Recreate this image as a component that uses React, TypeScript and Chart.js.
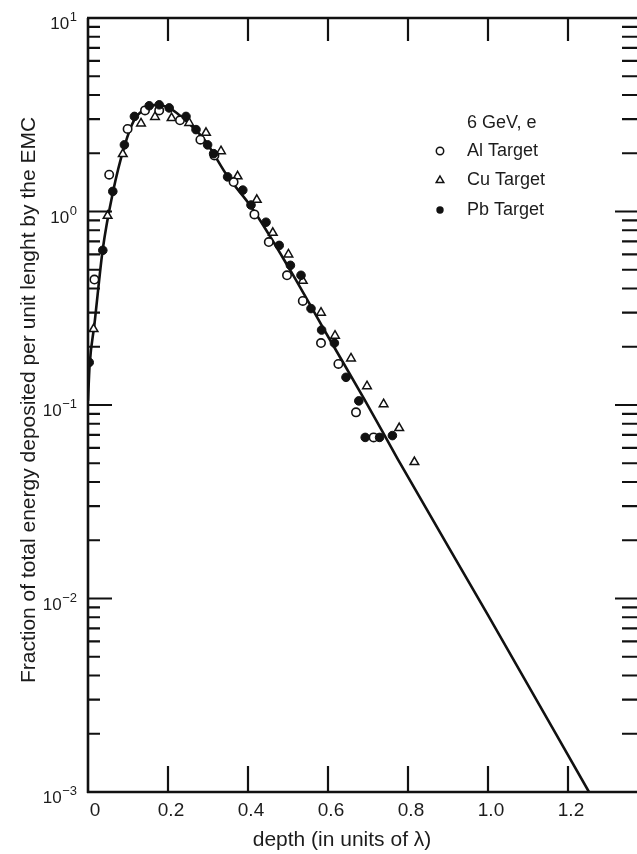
import React, { useEffect, useRef } from 'react';
import { Chart, registerables } from 'chart.js';

Chart.register(...registerables);

// ---------------- data ----------------
const curveDepth = [0, 0.004, 0.016, 0.037, 0.062, 0.091, 0.116, 0.145, 0.174, 0.2, 0.2325, 0.291, 0.349, 0.4075, 0.5, 0.599, 0.691, 0.774, 1.0, 1.2525];
const curveFraction = [0.105, 0.16, 0.26, 0.64, 1.25, 2.17, 2.98, 3.4, 3.56, 3.45, 3.1, 2.35, 1.52, 1.06, 0.52, 0.228, 0.107, 0.0527, 0.0082, 0.001];

const alDepth = [0.016, 0.053, 0.099, 0.1425, 0.178, 0.23, 0.281, 0.316, 0.364, 0.416, 0.452, 0.4975, 0.537, 0.5825, 0.626, 0.67, 0.714];
const alFraction = [0.445, 1.55, 2.67, 3.33, 3.33, 2.96, 2.35, 1.95, 1.42, 0.966, 0.695, 0.468, 0.345, 0.209, 0.163, 0.0916, 0.068];

const cuDepth = [0.014, 0.049, 0.087, 0.1325, 0.1675, 0.209, 0.253, 0.295, 0.3325, 0.374, 0.422, 0.462, 0.501, 0.537, 0.5825, 0.6175, 0.6575, 0.6975, 0.739, 0.778, 0.816];
const cuFraction = [0.247, 0.95, 1.98, 2.85, 3.08, 3.04, 2.87, 2.55, 2.05, 1.52, 1.15, 0.776, 0.6, 0.438, 0.3, 0.228, 0.174, 0.125, 0.101, 0.076, 0.0507];

const pbDepth = [0.003, 0.037, 0.062, 0.091, 0.116, 0.153, 0.178, 0.203, 0.245, 0.27, 0.299, 0.314, 0.349, 0.387, 0.4075, 0.445, 0.478, 0.506, 0.5325, 0.5575, 0.584, 0.616, 0.645, 0.677, 0.693, 0.729, 0.761];
const pbFraction = [0.166, 0.63, 1.27, 2.21, 3.1, 3.52, 3.56, 3.43, 3.1, 2.65, 2.21, 1.99, 1.51, 1.29, 1.08, 0.88, 0.668, 0.527, 0.468, 0.315, 0.244, 0.209, 0.139, 0.105, 0.068, 0.068, 0.0695];

const xTickValues = [0, 0.2, 0.4, 0.6, 0.8, 1.0, 1.2];
const xTickLabels = ['0', '0.2', '0.4', '0.6', '0.8', '1.0', '1.2'];
const yDecadeExponents = [-3, -2, -1, 0, 1];
const yExponentLabels = ['\u22123', '\u22122', '\u22121', '0', '1'];
const yMinorMultipliers = [2, 3, 4, 5, 6, 7, 8, 9];

const legendTitle = '6 GeV, e';
const seriesNames = ['Al Target', 'Cu Target', 'Pb Target'];
const xAxisTitle = 'depth (in units of \u03bb)';
const yAxisTitle = 'Fraction of total energy deposited per unit lenght by the EMC';

const X_MIN = 0;
const X_MAX = 1.38;
const Y_MIN = 0.001;
const Y_MAX = 10;

// ---------------- styling ----------------
const FONT = '"Liberation Sans", Arial, Helvetica, sans-serif';
const INK = '#111111';
const TEXT = '#1c1c1c';

function toPoints(xs: number[], ys: number[]) {
  return xs.map((x, i) => ({ x, y: ys[i] }));
}

function drawMarker(ctx: CanvasRenderingContext2D, kind: string, x: number, y: number, r: number) {
  ctx.save();
  ctx.lineWidth = 1.5;
  ctx.strokeStyle = INK;
  ctx.beginPath();
  if (kind === 'triangle') {
    ctx.moveTo(x, y - r);
    ctx.lineTo(x + r * 0.95, y + r * 0.65);
    ctx.lineTo(x - r * 0.95, y + r * 0.65);
    ctx.closePath();
    ctx.fillStyle = '#fff';
    ctx.fill();
    ctx.stroke();
  } else {
    ctx.arc(x, y, r, 0, Math.PI * 2);
    if (kind === 'filled') {
      ctx.fillStyle = INK;
      ctx.fill();
    } else {
      ctx.fillStyle = '#fff';
      ctx.fill();
      ctx.stroke();
    }
  }
  ctx.restore();
}

const framePlugin = {
  id: 'framePlugin',
  afterDatasetsDraw(chart: any) {
    const { ctx, chartArea: a, scales } = chart;
    const xs = scales.x;
    const ys = scales.y;
    const seg = (x1: number, y1: number, x2: number, y2: number) => {
      ctx.moveTo(x1, y1);
      ctx.lineTo(x2, y2);
    };
    ctx.save();
    ctx.strokeStyle = INK;
    ctx.lineCap = 'butt';

    // frame
    ctx.lineWidth = 2.6;
    ctx.beginPath();
    seg(a.left - 1, a.top, a.right, a.top);
    seg(a.left, a.top, a.left, a.bottom + 1);
    seg(a.left - 1, a.bottom, a.right, a.bottom);
    seg(a.right, a.top, a.right, a.bottom);
    ctx.stroke();

    // x ticks (inward, bottom and top)
    ctx.lineWidth = 2.2;
    ctx.beginPath();
    xTickValues.forEach((v) => {
      if (v === X_MIN) return;
      const px = xs.getPixelForValue(v);
      seg(px, a.bottom, px, a.bottom - 26);
      seg(px, a.top, px, a.top + 23);
    });
    ctx.stroke();

    // y ticks (inward, left and right)
    ctx.lineWidth = 2.2;
    ctx.beginPath();
    yDecadeExponents.forEach((e) => {
      const py = ys.getPixelForValue(Math.pow(10, e));
      seg(a.left, py, a.left + 24, py);
      seg(a.right, py, a.right - 25, py);
      if (e < yDecadeExponents[yDecadeExponents.length - 1]) {
        yMinorMultipliers.forEach((m) => {
          const q = ys.getPixelForValue(m * Math.pow(10, e));
          seg(a.left, q, a.left + 12, q);
          seg(a.right, q, a.right - 18, q);
        });
      }
    });
    ctx.stroke();

    // x tick labels
    ctx.fillStyle = TEXT;
    ctx.font = `19px ${FONT}`;
    ctx.textAlign = 'center';
    ctx.textBaseline = 'alphabetic';
    xTickValues.forEach((v, i) => {
      const px = xs.getPixelForValue(v);
      ctx.fillText(xTickLabels[i], px + (v === X_MIN ? 7 : 3), a.bottom + 24);
    });

    // y tick labels 10^n
    yDecadeExponents.forEach((e, i) => {
      const py = ys.getPixelForValue(Math.pow(10, e));
      ctx.textAlign = 'right';
      ctx.font = `13px ${FONT}`;
      const ew = ctx.measureText(yExponentLabels[i]).width;
      ctx.fillText(yExponentLabels[i], 77, py + 3);
      ctx.font = `17px ${FONT}`;
      ctx.fillText('10', 77 - ew - 0.5, py + 11);
    });

    // axis titles
    ctx.font = `21px ${FONT}`;
    ctx.textAlign = 'center';
    ctx.fillText(xAxisTitle, 342, 846);
    ctx.save();
    ctx.translate(35, 400);
    ctx.rotate(-Math.PI / 2);
    ctx.fillText(yAxisTitle, 0, 0);
    ctx.restore();

    // legend
    ctx.font = `18px ${FONT}`;
    ctx.textAlign = 'left';
    ctx.fillText(legendTitle, 467, 128);
    const kinds = ['open', 'triangle', 'filled'];
    const baselines = [156, 185, 215];
    seriesNames.forEach((name, i) => {
      ctx.fillStyle = TEXT;
      ctx.fillText(name, 467, baselines[i]);
      drawMarker(ctx, kinds[i], 440, baselines[i] - 5, i === 1 ? 4 : 3.7);
    });

    ctx.restore();
  },
};

export default function App() {
  const canvasRef = useRef<HTMLCanvasElement | null>(null);

  useEffect(() => {
    const canvas = canvasRef.current;
    if (!canvas) return;
    const chart = new Chart(canvas, {
      type: 'scatter',
      data: {
        datasets: [
          {
            label: 'fit',
            data: toPoints(curveDepth, curveFraction),
            showLine: true,
            borderColor: INK,
            borderWidth: 2.6,
            pointRadius: 0,
            cubicInterpolationMode: 'monotone',
            fill: false,
            order: 4,
          },
          {
            label: seriesNames[0],
            data: toPoints(alDepth, alFraction),
            pointStyle: 'circle',
            pointRadius: 4.2,
            pointBorderWidth: 1.6,
            pointBackgroundColor: '#ffffff',
            pointBorderColor: INK,
            order: 2,
          },
          {
            label: seriesNames[1],
            data: toPoints(cuDepth, cuFraction),
            pointStyle: 'triangle',
            pointRadius: 5,
            pointBorderWidth: 1.5,
            pointBackgroundColor: '#ffffff',
            pointBorderColor: INK,
            order: 3,
          },
          {
            label: seriesNames[2],
            data: toPoints(pbDepth, pbFraction),
            pointStyle: 'circle',
            pointRadius: 4.3,
            pointBorderWidth: 1,
            pointBackgroundColor: INK,
            pointBorderColor: INK,
            order: 1,
          },
        ],
      },
      options: {
        responsive: false,
        animation: false,
        devicePixelRatio: 1,
        layout: { padding: { left: 88, top: 18, right: 10, bottom: 62 } },
        plugins: {
          legend: { display: false },
          tooltip: { enabled: false },
          title: { display: false },
        },
        events: [],
        scales: {
          x: { type: 'linear', min: X_MIN, max: X_MAX, display: false },
          y: { type: 'logarithmic', min: Y_MIN, max: Y_MAX, display: false },
        },
      },
      plugins: [framePlugin],
    });
    return () => chart.destroy();
  }, []);

  return (
    <div
      style={{
        position: 'fixed',
        left: 0,
        top: 0,
        width: 637,
        height: 854,
        overflow: 'hidden',
        background: '#ffffff',
      }}
    >
      <canvas ref={canvasRef} width={650} height={854} style={{ display: 'block' }} />
    </div>
  );
}
